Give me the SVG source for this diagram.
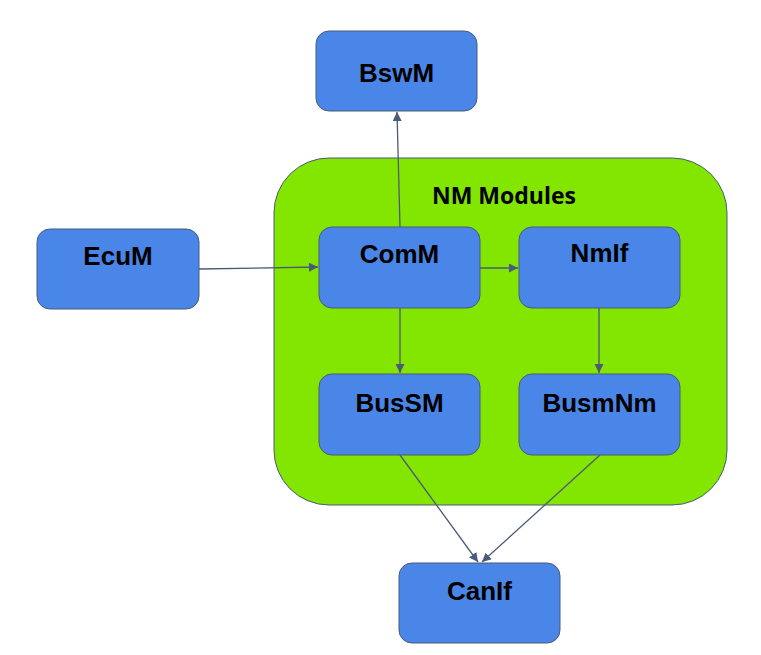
<svg xmlns="http://www.w3.org/2000/svg" width="761" height="655" viewBox="0 0 761 655">
<defs>
<style>
.box{fill:#4a86e8;stroke:#4a5a78;stroke-width:1}
.lbl{font-family:"Liberation Sans",Arial,sans-serif;font-weight:bold;font-size:26px;fill:#000;text-anchor:middle}
.grp{fill:#82e600;stroke:#4a5a78;stroke-width:1}
.title{font-family:"Open Sans","Liberation Sans",sans-serif;font-weight:bold;font-size:23px;fill:#000;text-anchor:middle}
.edge{fill:none;stroke:#4a5a78;stroke-width:1.3;marker-end:url(#ah)}
</style>
<marker id="ah" viewBox="0 0 10 10" refX="10" refY="5" markerWidth="9" markerHeight="9" markerUnits="userSpaceOnUse" orient="auto">
<path d="M0,0 L10,5 L0,10 z" fill="#4a5a78"/>
</marker>
</defs>
<rect width="761" height="655" fill="#fff"/>
<g id="nm-modules">
<rect class="grp" x="274" y="158" width="453" height="347" rx="55" ry="55"/>
<text class="title" x="504" y="204">NM Modules</text>
</g>
<g id="BswM">
<rect class="box" x="316" y="31" width="161" height="80" rx="13"/>
<text class="lbl" x="396.5" y="82">BswM</text>
</g>
<g id="EcuM">
<rect class="box" x="37" y="229" width="162" height="80" rx="13"/>
<text class="lbl" x="118" y="265">EcuM</text>
</g>
<g id="ComM">
<rect class="box" x="319" y="227" width="161" height="81" rx="13"/>
<text class="lbl" x="399.5" y="263">ComM</text>
</g>
<g id="NmIf">
<rect class="box" x="519" y="227" width="161" height="81" rx="13"/>
<text class="lbl" x="599.5" y="262">NmIf</text>
</g>
<g id="BusSM">
<rect class="box" x="319" y="374" width="161" height="81" rx="13"/>
<text class="lbl" x="399.5" y="412">BusSM</text>
</g>
<g id="BusmNm">
<rect class="box" x="519" y="374" width="161" height="81" rx="13"/>
<text class="lbl" x="599.5" y="412">BusmNm</text>
</g>
<g id="CanIf">
<rect class="box" x="399" y="563" width="161" height="80" rx="13"/>
<text class="lbl" x="479.5" y="600">CanIf</text>
</g>
<g id="connectors">
<path class="edge" d="M400,227 L397,112"/>
<path class="edge" d="M199,269 L318,267"/>
<path class="edge" d="M480,268 L518,268"/>
<path class="edge" d="M400,308 L400,373"/>
<path class="edge" d="M599,308 L599,373"/>
<path class="edge" d="M400,455 L478,562"/>
<path class="edge" d="M600,455 L482,562"/>
</g>
</svg>
